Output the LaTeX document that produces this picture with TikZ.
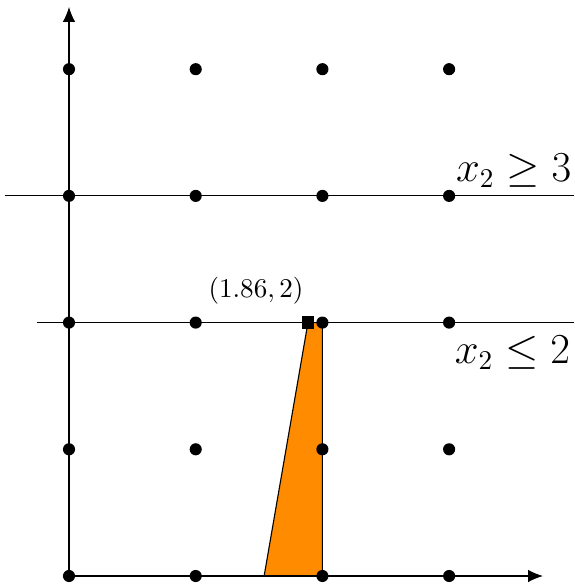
\documentclass[tikz,border=0pt]{standalone}
\usetikzlibrary{arrows.meta}
\definecolor{fillorange}{RGB}{255,140,0}
\begin{document}
\begin{tikzpicture}[x=1.8cm,y=1.8cm,
  pt/.style={circle,fill=black,inner sep=0pt,minimum size=4.9pt},
  sq/.style={rectangle,fill=black,inner sep=0pt,minimum size=5pt},
  axis/.style={line width=0.45pt,-{Latex[length=6pt,width=5pt]}},
  cut/.style={line width=0.45pt},
  biglab/.style={font=\fontsize{16}{19}\selectfont}]
\useasboundingbox (-0.5446,-0.071) rectangle (3.986,4.546);
% coordinates
\coordinate (o) at (0,0);
\coordinate (xe) at (3.741,0);
\coordinate (ye) at (0,4.491);
\coordinate (a3) at (-0.505,3);
\coordinate (b3) at (3.986,3);
\coordinate (a2) at (-0.253,2);
\coordinate (b2) at (3.986,2);
\coordinate (p1) at (1.54,0);
\coordinate (p2) at (1.886,2);
\coordinate (p3) at (2,2);
\coordinate (p4) at (2,0);
% cut lines
\draw[cut] (a3) -- (b3);
\draw[cut] (a2) -- (b2);
% feasible region
\draw[line width=0.45pt,fill=fillorange] (p1) -- (p2) -- (p3) -- (p4) -- cycle;
% axes
\draw[axis] (o) -- (xe);
\draw[axis] (o) -- (ye);
% lattice points
\foreach \i in {0,...,3}{
  \foreach \j in {0,...,4}{
    \node[pt] (d\i\j) at (\i,\j) {};
  }
}
\node[sq] (s) at (p2) {};
% labels
\node[biglab] (l3) at (3.51,3.20) {$x_2 \geq 3$};
\node[biglab] (l2) at (3.50,1.76) {$x_2 \leq 2$};
\node[font=\fontsize{11}{13}\selectfont] (lp) at (1.476,2.25) {$(1.86,2)$};
\end{tikzpicture}
\end{document}
